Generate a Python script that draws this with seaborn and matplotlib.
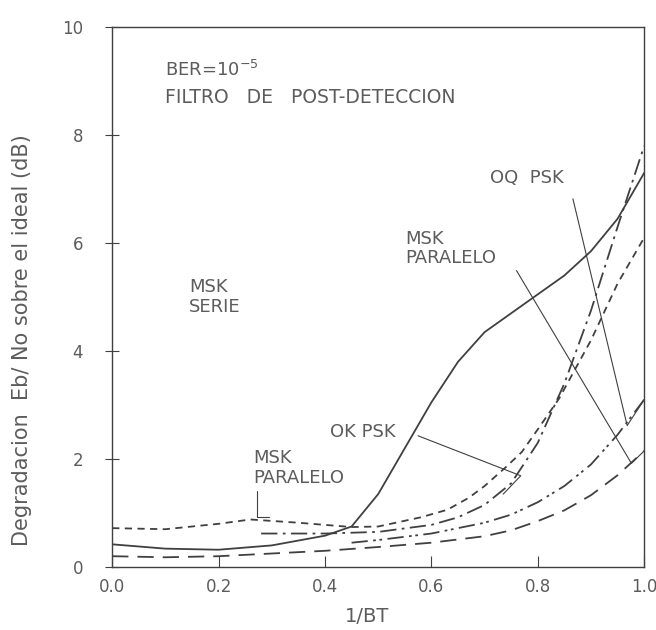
import pandas as pd
import numpy as np
import seaborn as sns
import matplotlib.pyplot as plt

# curves (x = 1/BT, y = degradation in dB)
serie_x = [0.0, 0.1, 0.2, 0.3, 0.4, 0.45, 0.5, 0.55, 0.6, 0.65, 0.7, 0.75, 0.8, 0.85, 0.9, 0.95, 1.0]
serie_y = [0.42, 0.34, 0.32, 0.4, 0.58, 0.75, 1.35, 2.2, 3.05, 3.8, 4.35, 4.7, 5.05, 5.4, 5.85, 6.45, 7.3]

paral_x = [0.0, 0.1, 0.2, 0.26, 0.35, 0.45, 0.5, 0.58, 0.63, 0.67, 0.7, 0.74, 0.77, 0.8, 0.84, 0.9, 0.95, 1.0]
paral_y = [0.72, 0.7, 0.8, 0.88, 0.82, 0.74, 0.75, 0.92, 1.06, 1.28, 1.5, 1.85, 2.13, 2.55, 3.12, 4.2, 5.25, 6.1]

okpsk_x = [0.28, 0.4, 0.5, 0.6, 0.65, 0.7, 0.75, 0.8, 0.85, 0.9, 0.95, 1.0]
okpsk_y = [0.62, 0.62, 0.65, 0.78, 0.92, 1.15, 1.55, 2.3, 3.4, 4.75, 6.3, 7.8]

oqpsk_x = [0.45, 0.5, 0.6, 0.7, 0.75, 0.8, 0.85, 0.9, 0.95, 1.0]
oqpsk_y = [0.45, 0.5, 0.62, 0.82, 0.97, 1.2, 1.5, 1.9, 2.45, 3.1]

paral2_x = [0.0, 0.1, 0.2, 0.3, 0.4, 0.5, 0.6, 0.7, 0.75, 0.8, 0.85, 0.9, 0.95, 1.0]
paral2_y = [0.2, 0.18, 0.2, 0.25, 0.3, 0.37, 0.45, 0.57, 0.68, 0.85, 1.05, 1.33, 1.7, 2.15]

x_ticks = [0.0, 0.2, 0.4, 0.6, 0.8, 1.0]
x_ticklabels = ["0.0", "0.2", "0.4", "0.6", "0.8", "1.0"]
y_ticks = [0, 2, 4, 6, 8, 10]

df = pd.concat([
    pd.DataFrame({"x": serie_x, "y": serie_y, "curve": "serie"}),
    pd.DataFrame({"x": paral_x, "y": paral_y, "curve": "paral"}),
    pd.DataFrame({"x": okpsk_x, "y": okpsk_y, "curve": "okpsk"}),
    pd.DataFrame({"x": oqpsk_x, "y": oqpsk_y, "curve": "oqpsk"}),
    pd.DataFrame({"x": paral2_x, "y": paral2_y, "curve": "paral2"}),
], ignore_index=True)

sns.set_style("ticks")
plt.rcParams['font.family'] = ['DejaVu Sans']

ink = "#404040"
txt = "#5c5c5c"

fig = plt.figure(figsize=(6.56, 6.30), dpi=100)
ax = fig.add_axes([0.171, 0.1, 0.811, 0.857])

dash_styles = {
    "serie": "",
    "paral": (4, 3),
    "okpsk": (9, 3, 1.5, 3),
    "oqpsk": (9, 3, 1.5, 2, 1.5, 3),
    "paral2": (9, 5),
}
sns.lineplot(data=df, x="x", y="y", style="curve", dashes=dash_styles,
             color=ink, linewidth=1.3, legend=False, ax=ax, sort=True)

# pointer lines from the labels
lw = 0.8
ax.plot([0.272, 0.272, 0.295], [1.4, 0.92, 0.92], color=ink, lw=lw)
ax.plot([0.575, 0.768, 0.735], [2.43, 1.69, 1.35], color=ink, lw=lw)
ax.plot([0.76, 0.976, 1.0], [5.49, 1.92, 2.15], color=ink, lw=lw)
ax.plot([0.866, 0.968, 1.0], [6.82, 2.62, 3.1], color=ink, lw=lw)

fs = 13
ax.text(0.10, 9.2, r"BER=10$^{-5}$", fontsize=fs, color=txt, va="center")
ax.text(0.10, 8.7, "FILTRO   DE   POST-DETECCION", fontsize=13.5, color=txt, va="center")
ax.text(0.145, 5.0, "MSK\nSERIE", fontsize=fs, color=txt, va="center", linespacing=1.1)
ax.text(0.55, 5.9, "MSK\nPARALELO", fontsize=fs, color=txt, va="center", linespacing=1.1)
ax.text(0.71, 7.2, "OQ  PSK", fontsize=fs, color=txt, va="center")
ax.text(0.41, 2.5, "OK PSK", fontsize=fs, color=txt, va="center")
ax.text(0.265, 1.83, "MSK\nPARALELO", fontsize=fs, color=txt, va="center", linespacing=1.1)

ax.set_xlim(0, 1.0)
ax.set_ylim(0, 10)
ax.set_xticks(x_ticks)
ax.set_xticklabels(x_ticklabels)
ax.set_yticks(y_ticks)
ax.tick_params(axis="x", direction="in", length=8, width=0.8, colors=ink, labelcolor=txt,
               labelsize=12, pad=8)
ax.tick_params(axis="y", direction="inout", length=10, width=0.8, colors=ink, labelcolor=txt,
               labelsize=12, pad=16)
for s in ax.spines.values():
    s.set_color(ink)
    s.set_linewidth(1.0)
    s.set_visible(True)

ax.set_xlabel("1/BT", fontsize=14, color=txt)
ax.xaxis.set_label_coords(0.48, -0.075)
ax.set_ylabel("Degradacion  Eb/ No sobre el ideal (dB)", fontsize=15, color=txt)
ax.yaxis.set_label_coords(-0.15, 0.42)

fig.savefig("out.png", dpi=100, facecolor="white")
